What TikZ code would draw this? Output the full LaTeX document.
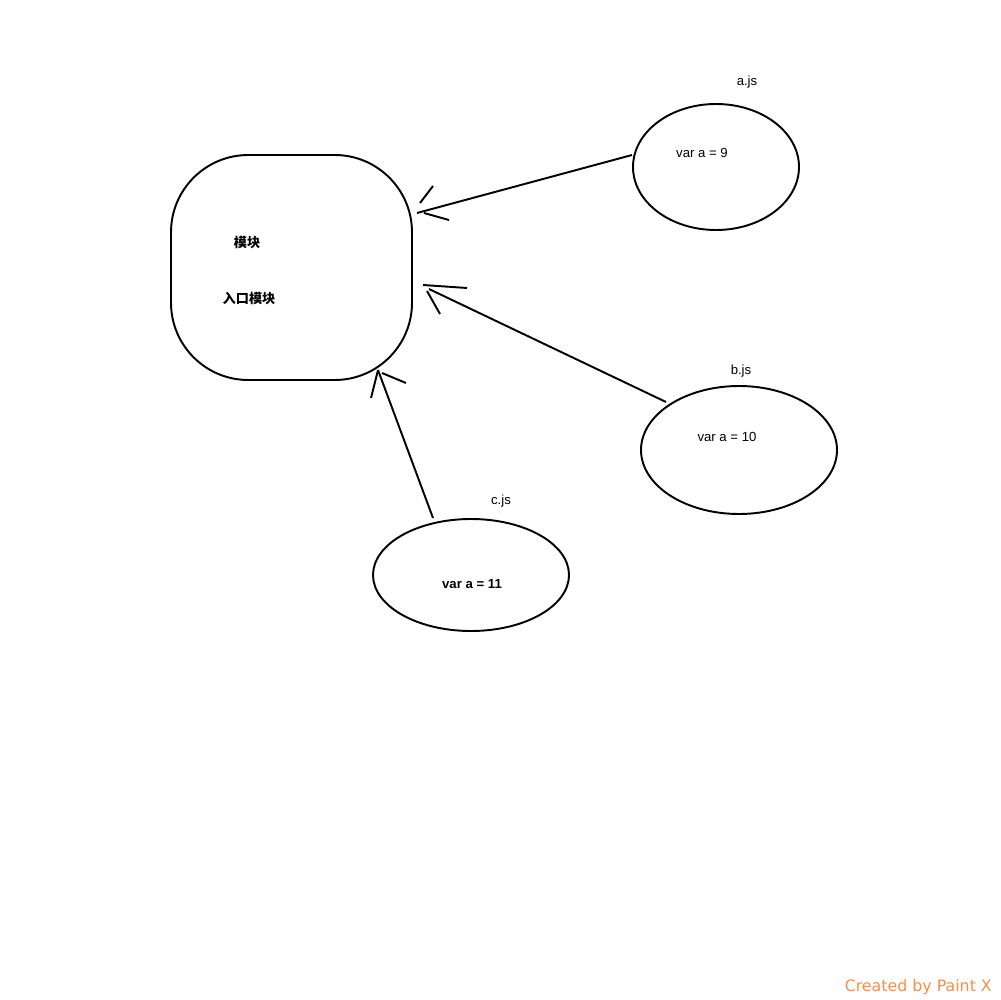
\documentclass[tikz,border=0pt]{standalone}
\usepackage{fontspec}
\usetikzlibrary{shapes.geometric}
\setmainfont{Liberation Sans}
\newfontfamily\cjk{Noto Sans CJK SC}
\newfontfamily\markfont{DejaVu Sans}
\definecolor{paintx}{RGB}{250,140,70}
\begin{document}
\begin{tikzpicture}[x=0.02cm,y=-0.02cm,
  line/.style={line width=1.1pt,black},
  file/.style={draw,line width=1.1pt,ellipse,inner sep=0pt},
  txt/.style={font=\fontsize{7.5}{9}\selectfont},
  zh/.style={font=\cjk\bfseries\fontsize{7.5}{9}\selectfont}]
\useasboundingbox (0,0) rectangle (1000,1000);

\draw [line,rounded corners=44] (171,155) rectangle (412,380);
\node [zh] (mod) at (247,243) {模块};
\node [zh] (entry) at (249,298) {入口模块};

\node [file,minimum width=166*0.02cm,minimum height=126*0.02cm] (a) at (716,167) {};
\node [file,minimum width=196*0.02cm,minimum height=128*0.02cm] (b) at (739,450) {};
\node [file,minimum width=196*0.02cm,minimum height=112*0.02cm] (c) at (471,575) {};

\node [txt] (aname) at (747,82) {a.js};
\node [txt] (aval) at (702,153) {var a = 9};
\node [txt] (bname) at (741,371) {b.js};
\node [txt] (bval) at (727,437) {var a = 10};
\node [txt] (cname) at (501,501) {c.js};
\node [txt,font=\bfseries\fontsize{7.5}{9}\selectfont] (cval) at (472,584) {var a = 11};

% hand drawn arrows
\coordinate (atip) at (417,213);
\coordinate (btip) at (429,289);
\coordinate (ctip) at (378,370);

\draw [line] (a.west) ++(0,-12) -- (atip);
\draw [line] (420,203)--(433,186);
\draw [line] (424,213)--(449,220);

\draw [line] (666,402) -- (btip);
\draw [line] (423,285)--(467,288);
\draw [line] (427,291)--(440,314);

\draw [line] (433,518) -- (ctip);
\draw [line] (378,370)--(371,398);
\draw [line] (382,373)--(406,383);

\node [anchor=south east,text=paintx,font=\markfont\fontsize{9}{11}\selectfont] (mark) at (998,1001) {Created by Paint X};
\end{tikzpicture}
\end{document}
